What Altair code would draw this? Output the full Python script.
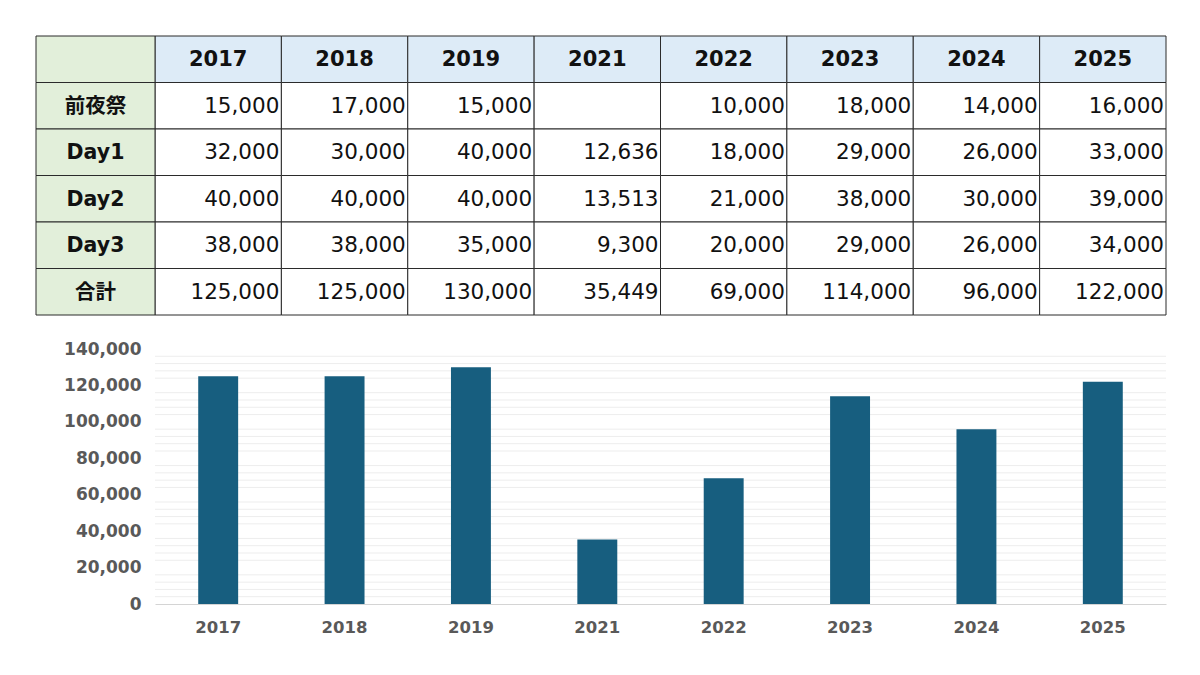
import altair as alt
import pandas as pd

years = ["2017", "2018", "2019", "2021", "2022", "2023", "2024", "2025"]
row_labels = ["前夜祭", "Day1", "Day2", "Day3", "合計"]
eve = [15000, 17000, 15000, None, 10000, 18000, 14000, 16000]
day1 = [32000, 30000, 40000, 12636, 18000, 29000, 26000, 33000]
day2 = [40000, 40000, 40000, 13513, 21000, 38000, 30000, 39000]
day3 = [38000, 38000, 35000, 9300, 20000, 29000, 26000, 34000]
total = [125000, 125000, 130000, 35449, 69000, 114000, 96000, 122000]
y_ticks = [0, 20000, 40000, 60000, 80000, 100000, 120000, 140000]

FONT = "DejaVu Sans, Noto Sans CJK JP, sans-serif"
BORDER = "#2b2b2b"
row_order = ["head"] + row_labels

# table cells, one record per (row, year)
cells = []
for r, vals in zip(row_labels, [eve, day1, day2, day3, total]):
    for i, v in enumerate(vals):
        cells.append({"row": r, "col": i, "txt": "" if v is None else f"{v:,}"})
cells = pd.DataFrame(cells)
heads = pd.DataFrame({"row": "head", "col": range(len(years)), "txt": years})
labels = pd.DataFrame({"row": row_order, "txt": [""] + row_labels})

x_tab = alt.Scale(domain=[0, len(years)], nice=False, zero=False)
y_tab = alt.Scale(domain=row_order, paddingInner=0, paddingOuter=0)
label_left = -119 / 126.375


def grid_cells(data, fill):
    return (
        alt.Chart(data)
        .transform_calculate(col_end="datum.col + 1")
        .mark_rect(fill=fill, stroke=BORDER, strokeWidth=1)
        .encode(
            x=alt.X("col:Q", scale=x_tab, axis=None),
            x2="col_end:Q",
            y=alt.Y("row:N", scale=y_tab, axis=None),
        )
    )


body = grid_cells(cells, "white")
head_bg = grid_cells(heads, "#DDEBF7")
label_bg = alt.Chart(labels).mark_rect(fill="#E2EFDA", stroke=BORDER, strokeWidth=1).encode(
    x=alt.datum(label_left, scale=x_tab),
    x2=alt.datum(0),
    y=alt.Y("row:N", scale=y_tab, axis=None),
)
body_txt = (
    alt.Chart(cells)
    .transform_calculate(col_end="datum.col + 1")
    .mark_text(font=FONT, fontSize=21.5, align="right", baseline="middle", dx=-2, dy=1, color="#111")
    .encode(x=alt.X("col_end:Q", scale=x_tab), y=alt.Y("row:N", scale=y_tab), text="txt:N")
)
head_txt = (
    alt.Chart(heads)
    .transform_calculate(mid="datum.col + 0.5")
    .mark_text(font=FONT, fontSize=21, fontWeight="bold", baseline="middle", dy=1, color="#111")
    .encode(x=alt.X("mid:Q", scale=x_tab), y=alt.Y("row:N", scale=y_tab), text="txt:N")
)
label_txt = alt.Chart(labels).mark_text(
    font=FONT, fontSize=20.5, fontWeight="bold", baseline="middle", dy=1, color="#111"
).encode(
    x=alt.datum(label_left / 2, scale=x_tab),
    y=alt.Y("row:N", scale=y_tab),
    text="txt:N",
)

table = alt.layer(body, head_bg, label_bg, body_txt, head_txt, label_txt).properties(
    width=1011, height=279
)

# bar chart of the totals
bars_df = pd.DataFrame({"year": years, "total": total})
minor = pd.DataFrame({"v": [v for v in range(4000, 140000, 4000) if v % 20000]})
y_bar = alt.Scale(domain=[0, 140000], nice=False, zero=True)

minor_grid = alt.Chart(minor).mark_rule(color="#EDEDED", strokeWidth=1).encode(
    y=alt.Y("v:Q", scale=y_bar, axis=None)
)
bars = alt.Chart(bars_df).mark_bar(color="#175E7F").encode(
    x=alt.X(
        "year:N",
        sort=years,
        scale=alt.Scale(paddingInner=0.684, paddingOuter=0.342),
        axis=alt.Axis(
            title=None,
            labelAngle=0,
            labelFont=FONT,
            labelFontSize=16.5,
            labelFontWeight="bold",
            labelColor="#595959",
            labelPadding=15,
            ticks=False,
            domainColor="#D4D4D4",
        ),
    ),
    y=alt.Y(
        "total:Q",
        scale=y_bar,
        axis=alt.Axis(
            title=None,
            values=y_ticks,
            format=",d",
            labelFont=FONT,
            labelFontSize=17,
            labelFontWeight="bold",
            labelColor="#595959",
            labelPadding=14,
            ticks=False,
            domain=False,
            gridColor="#D9D9D9",
        ),
    ),
)
bar_chart = (
    alt.layer(minor_grid, bars)
    .resolve_axis(y="independent")
    .properties(width=1011, height=255)
)

chart = (
    alt.vconcat(table, bar_chart, spacing=34, bounds="flush")
    .resolve_scale(x="independent", y="independent")
    .properties(padding={"left": 27, "top": 27, "right": 5, "bottom": 5}, background="white")
    .configure_view(stroke=None)
)

chart.save("out.html", embed_options={"renderer": "svg", "actions": False})
